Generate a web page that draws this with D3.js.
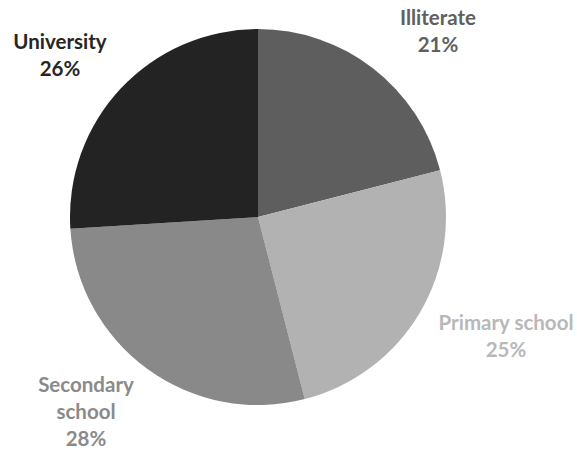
<!DOCTYPE html>
<html>
<head>
<meta charset="utf-8">
<script src="https://cdn.jsdelivr.net/npm/d3@7"></script>
<style>
  body { margin: 0; background: #fff; }
  svg { display: block; }
  .label { font-family: Lato, "Open Sans", sans-serif; font-weight: 700; font-size: 20.5px; }
</style>
</head>
<body>
<svg width="577" height="454"></svg>
<script>
const categories = ["Illiterate", "Primary school", "Secondary school", "University"];
const shares = [21, 25, 28, 26];
const labelLines = [["Illiterate"], ["Primary school"], ["Secondary", "school"], ["University"]];

const svg = d3.select("svg");
const cx = 258, cy = 217, radius = 188;

const colors = d3.scaleOrdinal()
  .domain(categories)
  .range(["#5e5e5e", "#b2b2b2", "#898989", "#232323"]);

const labelColors = d3.scaleOrdinal()
  .domain(categories)
  .range(["#606060", "#b8b8b8", "#8a8a8a", "#262626"]);

// where each label block sits (center x, first baseline), chosen to match the reference
const labelPos = {
  "Illiterate": [438, 25],
  "Primary school": [506, 330],
  "Secondary school": [86, 392],
  "University": [60, 49]
};

const data = categories.map((c, i) => ({ category: c, value: shares[i], lines: labelLines[i] }));

const pie = d3.pie().value(d => d.value).sort(null);
const arc = d3.arc().innerRadius(0).outerRadius(radius);

const g = svg.append("g").attr("transform", `translate(${cx},${cy})`);

g.selectAll("path")
  .data(pie(data))
  .enter()
  .append("path")
  .attr("d", arc)
  .attr("fill", d => colors(d.data.category));

const lineHeight = 27;
const labels = svg.selectAll(".label")
  .data(data)
  .enter()
  .append("text")
  .attr("class", "label")
  .attr("text-anchor", "middle")
  .attr("fill", d => labelColors(d.category))
  .attr("transform", d => `translate(${labelPos[d.category][0]},${labelPos[d.category][1]})`);

labels.each(function (d) {
  const t = d3.select(this);
  const rows = d.lines.concat([d.value + "%"]);
  rows.forEach((r, i) => {
    t.append("tspan").attr("x", 0).attr("y", i * lineHeight).text(r);
  });
});
</script>
</body>
</html>
